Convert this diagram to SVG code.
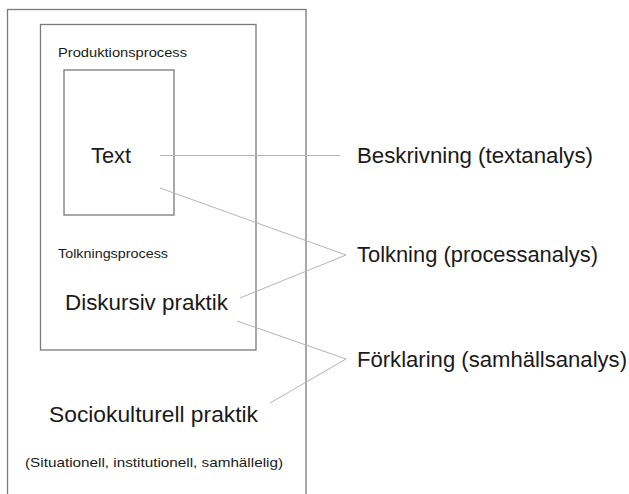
<svg xmlns="http://www.w3.org/2000/svg" width="629" height="494" viewBox="0 0 629 494">
<style>
.box{fill:none;stroke:#7a7a7a;stroke-width:1.3}
.ln{stroke:#b4b4b4;stroke-width:1;fill:none}
text{font-family:"Liberation Sans",Arial,sans-serif;fill:#1a1a1a}
.s{font-size:13.5px}
.m{font-size:22px}
</style>
<rect width="629" height="494" fill="#fff"/>
<g id="outer">
<rect class="box" x="7.5" y="9.5" width="298.5" height="500"/>
<text class="m" x="49" y="422" textLength="209" lengthAdjust="spacingAndGlyphs">Sociokulturell praktik</text>
<text class="s" x="25" y="467" textLength="258" lengthAdjust="spacingAndGlyphs">(Situationell, institutionell, samhällelig)</text>
</g>
<g id="middle">
<rect class="box" x="40.5" y="24.5" width="215.5" height="325.5"/>
<text class="s" x="58" y="57" textLength="129" lengthAdjust="spacingAndGlyphs">Produktionsprocess</text>
<text class="s" x="58" y="258" textLength="110" lengthAdjust="spacingAndGlyphs">Tolkningsprocess</text>
<text class="m" x="65" y="310" textLength="163" lengthAdjust="spacingAndGlyphs">Diskursiv praktik</text>
</g>
<g id="inner">
<rect class="box" x="64" y="70" width="110" height="145"/>
<text class="m" x="91" y="163" textLength="40" lengthAdjust="spacingAndGlyphs">Text</text>
</g>
<g id="connectors">
<line class="ln" x1="160" y1="155.5" x2="340" y2="155.5"/>
<polyline class="ln" points="160,188 346,255 240,298"/>
<polyline class="ln" points="237,321 346,359 270,403"/>
</g>
<g id="label-beskrivning"><text class="m" x="357" y="163" textLength="236" lengthAdjust="spacingAndGlyphs">Beskrivning (textanalys)</text></g>
<g id="label-tolkning"><text class="m" x="357" y="262" textLength="241" lengthAdjust="spacingAndGlyphs">Tolkning (processanalys)</text></g>
<g id="label-forklaring"><text class="m" x="357" y="367" textLength="270" lengthAdjust="spacingAndGlyphs">Förklaring (samhällsanalys)</text></g>
</svg>
